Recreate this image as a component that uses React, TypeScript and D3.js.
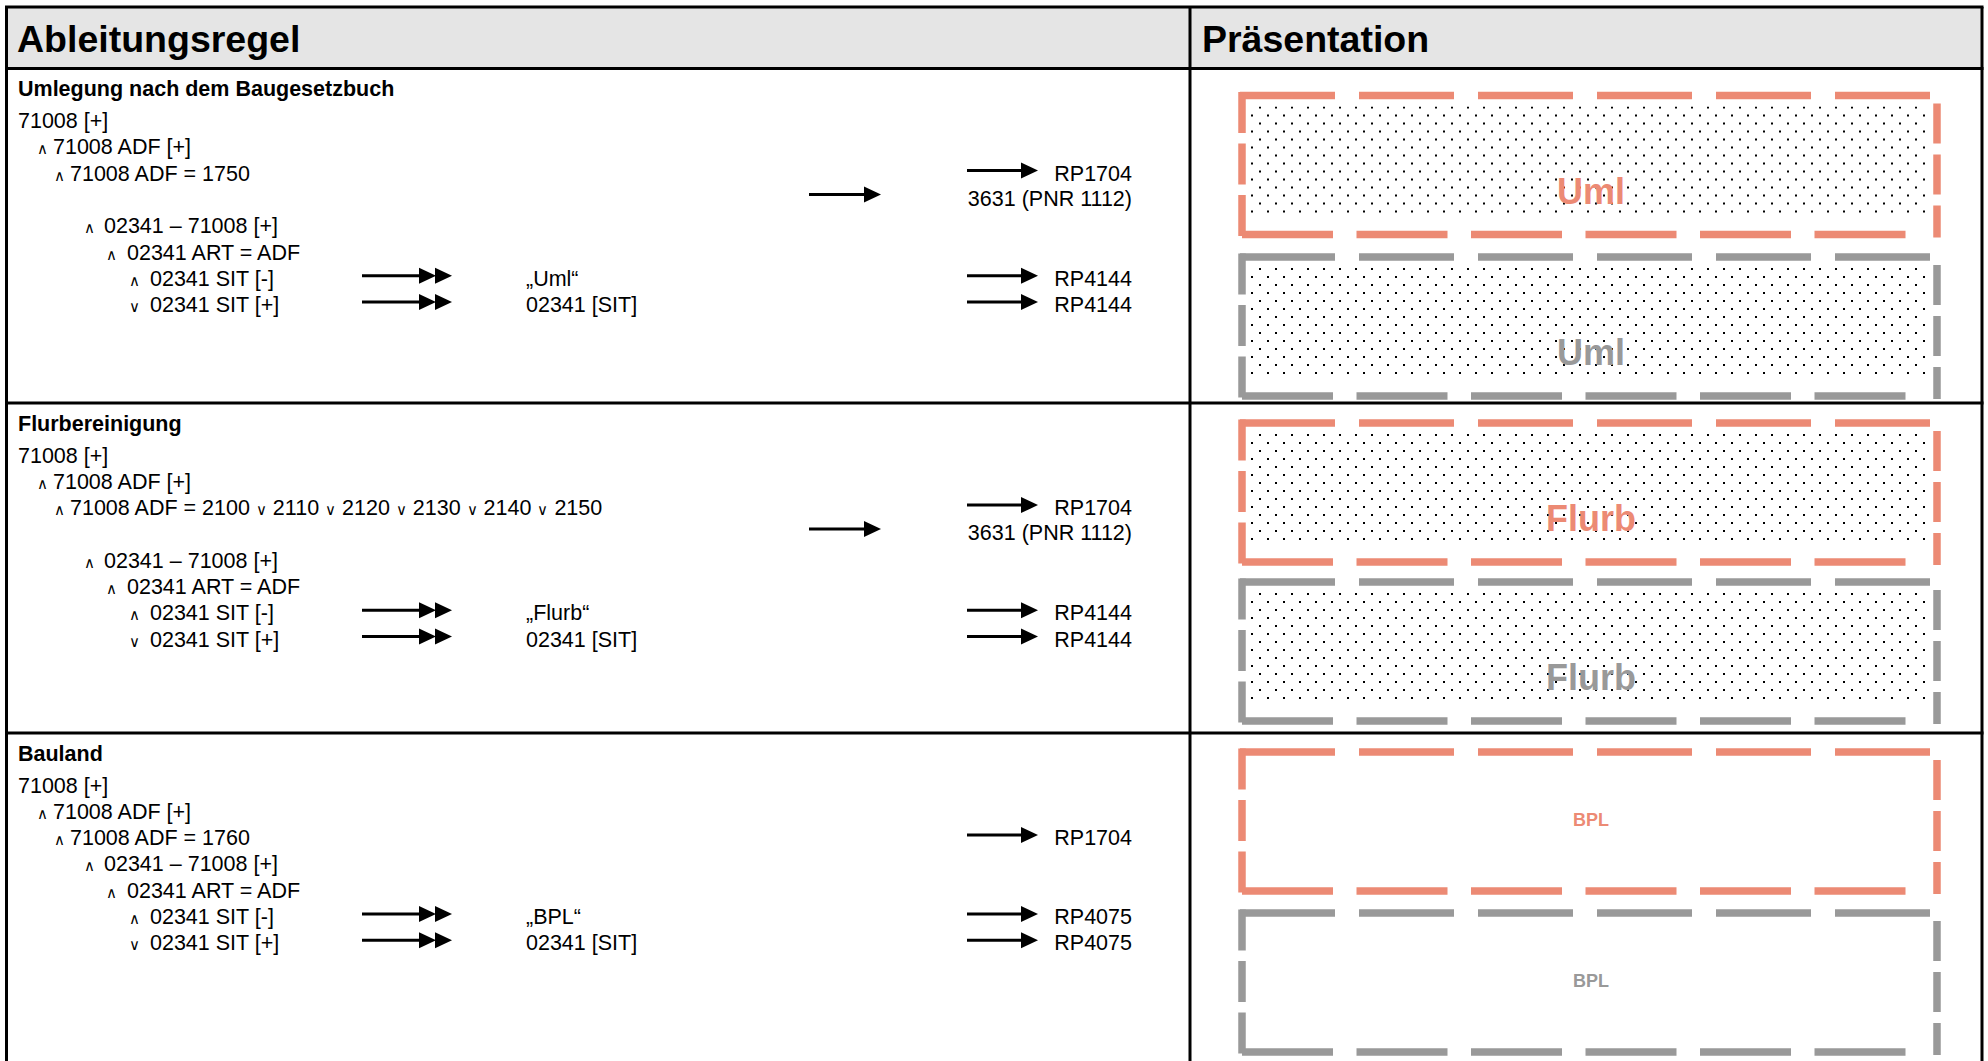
import React from "react";
import * as d3 from "d3";

const W = 1988;
const H = 1061;

// ---------- data ----------
const headerTitles = ["Ableitungsregel", "Präsentation"];
const sectionTitles = ["Umlegung nach dem Baugesetzbuch", "Flurbereinigung", "Bauland"];
const ruleSymbols = ["", "∧", "∧", "∧", "∧", "∧", "∨"];
const ruleLevels = [0, 1, 2, 3, 4, 5, 5];
const rulesUml = ["71008 [+]", "71008 ADF [+]", "71008 ADF = 1750", "02341 – 71008 [+]", "02341 ART = ADF", "02341 SIT [-]", "02341 SIT [+]"];
const rulesFlurb = ["71008 [+]", "71008 ADF [+]", "71008 ADF = 2100 ∨ 2110 ∨ 2120 ∨ 2130 ∨ 2140 ∨ 2150", "02341 – 71008 [+]", "02341 ART = ADF", "02341 SIT [-]", "02341 SIT [+]"];
const rulesBPL = ["71008 [+]", "71008 ADF [+]", "71008 ADF = 1760", "02341 – 71008 [+]", "02341 ART = ADF", "02341 SIT [-]", "02341 SIT [+]"];
const ruleSlotsGap = [0, 1, 2, 4, 5, 6, 7];
const ruleSlotsTight = [0, 1, 2, 3, 4, 5, 6];
const resultLabels = [["„Uml“", "02341 [SIT]"], ["„Flurb“", "02341 [SIT]"], ["„BPL“", "02341 [SIT]"]];
const rpMain = ["RP1704", "RP1704", "RP1704"];
const rpSub = ["3631 (PNR 1112)", "3631 (PNR 1112)", ""];
const rpSit = [["RP4144", "RP4144"], ["RP4144", "RP4144"], ["RP4075", "RP4075"]];
const presLabels = ["Uml", "Flurb", "BPL"];
const presDotted = [true, true, false];

const rows = [
  { title: sectionTitles[0], rules: rulesUml, slots: ruleSlotsGap, res: resultLabels[0], main: rpMain[0], sub: rpSub[0], sit: rpSit[0], pres: presLabels[0], dotted: presDotted[0] },
  { title: sectionTitles[1], rules: rulesFlurb, slots: ruleSlotsGap, res: resultLabels[1], main: rpMain[1], sub: rpSub[1], sit: rpSit[1], pres: presLabels[1], dotted: presDotted[1] },
  { title: sectionTitles[2], rules: rulesBPL, slots: ruleSlotsTight, res: resultLabels[2], main: rpMain[2], sub: rpSub[2], sit: rpSit[2], pres: presLabels[2], dotted: presDotted[2] },
];

// ---------- layout ----------
const FONT = "'Liberation Sans', Arial, Helvetica, sans-serif";
const SYM_FONT = "'DejaVu Sans', sans-serif";
const SYM_SIZE = 15;
const ORANGE = "#ec8a74";
const GRAY = "#999999";
const LEFT = 6.5;
const RIGHT = 1982;
const TOP = 7;
const COL = 1190;
const HEADER_BOTTOM = 68.5;
const rowTops = [HEADER_BOTTOM, 403, 733];
const boxTops = [[95.5, 257], [423, 582], [752, 913]];
const BOX_H = 139;
const BOX_X0 = 1242;
const BOX_X1 = 1937;

const indentSym = [0, 37, 54, 84, 106, 129];
const indentText = [18, 53, 70, 104, 127, 150];

const slotScale = d3.scaleLinear().domain([0, 1]).range([59.5, 85.8]);

function Arrow({ x0, x1, y, heads = 1 }: { x0: number; x1: number; y: number; heads?: number }) {
  const hl = 17;
  const hh = 8;
  const lineEnd = x1 - hl * heads + 3;
  const tri = d3.line();
  const paths = d3.range(heads).map((i) => {
    const tip = x1 - i * (hl - 1);
    return tri([
      [tip - hl, y - hh],
      [tip, y],
      [tip - hl, y + hh],
    ]) + "Z";
  });
  return (
    <g>
      <line x1={x0} x2={lineEnd} y1={y} y2={y} stroke="#000" strokeWidth={3} />
      {paths.map((p, i) => (
        <path key={i} d={p} fill="#000" />
      ))}
    </g>
  );
}

function RuleText({ text, x, y }: { text: string; x: number; y: number }) {
  const parts = text.split("∨");
  return (
    <text x={x} y={y} fontFamily={FONT} fontSize={21.5} fill="#000">
      {parts.map((p, i) => (
        <React.Fragment key={i}>
          {i > 0 && (
            <tspan fontFamily={SYM_FONT} fontSize={SYM_SIZE} fontWeight={300}>
              ∨
            </tspan>
          )}
          <tspan>{p}</tspan>
        </React.Fragment>
      ))}
    </text>
  );
}

function DashedBox({ y0, color }: { y0: number; color: string }) {
  const y1 = y0 + BOX_H;
  const sw = 7.5;
  return (
    <g stroke={color} strokeWidth={sw} fill="none">
      <line x1={BOX_X0 - 2} x2={BOX_X1 - 5} y1={y0} y2={y0} strokeDasharray="95 24" />
      <line x1={BOX_X1} x2={BOX_X1} y1={y0 + 8} y2={y1 + 3} strokeDasharray="40 11" />
      <line x1={BOX_X0} x2={BOX_X1 - 30} y1={y1} y2={y1} strokeDasharray="91 23.5" />
      <line x1={BOX_X0} x2={BOX_X0} y1={y0 - 3.5} y2={y1 + 3.5} strokeDasharray="41 10.5" />
    </g>
  );
}

export default function App() {
  return (
    <svg
      width={W}
      height={H}
      style={{ position: "absolute", left: 0, top: 0, background: "#fff" }}
      xmlns="http://www.w3.org/2000/svg"
    >
      <defs>
        {boxTops.map((pair, ri) =>
          pair.map((bt, bi) => (
            <pattern
              key={`p${ri}${bi}`}
              id={`dots${ri}${bi}`}
              patternUnits="userSpaceOnUse"
              x={1251}
              y={bt + 11}
              width={16}
              height={16}
            >
              <rect x={8} y={0} width={2} height={2} fill="#000" />
              <rect x={0} y={8} width={2} height={2} fill="#000" />
            </pattern>
          ))
        )}
      </defs>
      <rect x={0} y={0} width={W} height={H} fill="#fff" />
      {/* header */}
      <rect x={LEFT} y={TOP} width={RIGHT - LEFT} height={HEADER_BOTTOM - TOP} fill="#e5e5e5" />
      <text x={17} y={52} fontFamily={FONT} fontWeight="bold" fontSize={37.5}>
        {headerTitles[0]}
      </text>
      <text x={COL + 12} y={52} fontFamily={FONT} fontWeight="bold" fontSize={37.5}>
        {headerTitles[1]}
      </text>

      {rows.map((row, ri) => {
        const top = rowTops[ri];
        const yb = (slot: number) => top + slotScale(slot);
        const mainSlot = 2;
        return (
          <g key={ri}>
            <text x={18} y={top + 27.5} fontFamily={FONT} fontWeight="bold" fontSize={21.5}>
              {row.title}
            </text>
            {row.rules.map((r, li) => {
              const lvl = ruleLevels[li];
              const y = yb(row.slots[li]);
              return (
                <g key={li}>
                  {ruleSymbols[li] && (
                    <text x={indentSym[lvl]} y={y} fontFamily={SYM_FONT} fontSize={SYM_SIZE} fontWeight={300}>
                      {ruleSymbols[li]}
                    </text>
                  )}
                  <RuleText text={r} x={indentText[lvl]} y={y} />
                </g>
              );
            })}
            {/* double arrows + result labels for SIT lines */}
            {[5, 6].map((li, k) => {
              const y = yb(row.slots[li]);
              return (
                <g key={`d${li}`}>
                  <Arrow x0={362} x1={452} y={y - 10} heads={2} />
                  <text x={526} y={y} fontFamily={FONT} fontSize={21.5}>
                    {row.res[k]}
                  </text>
                  <Arrow x0={967} x1={1038} y={y - 10} />
                  <text x={1132} y={y} fontFamily={FONT} fontSize={21.5} textAnchor="end">
                    {row.sit[k]}
                  </text>
                </g>
              );
            })}
            {/* main result RP1704 */}
            <Arrow x0={967} x1={1038} y={yb(mainSlot) - 10} />
            <text x={1132} y={yb(mainSlot)} fontFamily={FONT} fontSize={21.5} textAnchor="end">
              {row.main}
            </text>
            {row.sub && (
              <g>
                <text x={1132} y={yb(mainSlot + 0.95)} fontFamily={FONT} fontSize={21.5} textAnchor="end">
                  {row.sub}
                </text>
                <Arrow x0={809} x1={881} y={yb(mainSlot + 0.95) - 11} />
              </g>
            )}
            {/* presentation boxes */}
            {boxTops[ri].map((bt, bi) => {
              const color = bi === 0 ? ORANGE : GRAY;
              const big = row.dotted;
              return (
                <g key={`b${bi}`}>
                  {row.dotted && (
                    <rect x={1250} y={bt + 11} width={678} height={BOX_H - 28} fill={`url(#dots${ri}${bi})`} />
                  )}
                  <DashedBox y0={bt} color={color} />
                  <text
                    x={1591}
                    y={big ? bt + 108 : bt + 74}
                    fontFamily={FONT}
                    fontWeight="bold"
                    fontSize={big ? 36 : 18}
                    fill={color}
                    textAnchor="middle"
                  >
                    {row.pres}
                  </text>
                </g>
              );
            })}
          </g>
        );
      })}

      {/* grid lines */}
      <g stroke="#000" strokeWidth={3} fill="none">
        <line x1={LEFT} x2={LEFT} y1={TOP} y2={H + 10} />
        <line x1={RIGHT} x2={RIGHT} y1={TOP} y2={H + 10} />
        <line x1={COL} x2={COL} y1={TOP} y2={H + 10} />
        <line x1={LEFT - 1.5} x2={RIGHT + 1.5} y1={TOP} y2={TOP} />
        {rowTops.map((y, i) => (
          <line key={i} x1={LEFT - 1.5} x2={RIGHT + 1.5} y1={y} y2={y} />
        ))}
      </g>
    </svg>
  );
}
